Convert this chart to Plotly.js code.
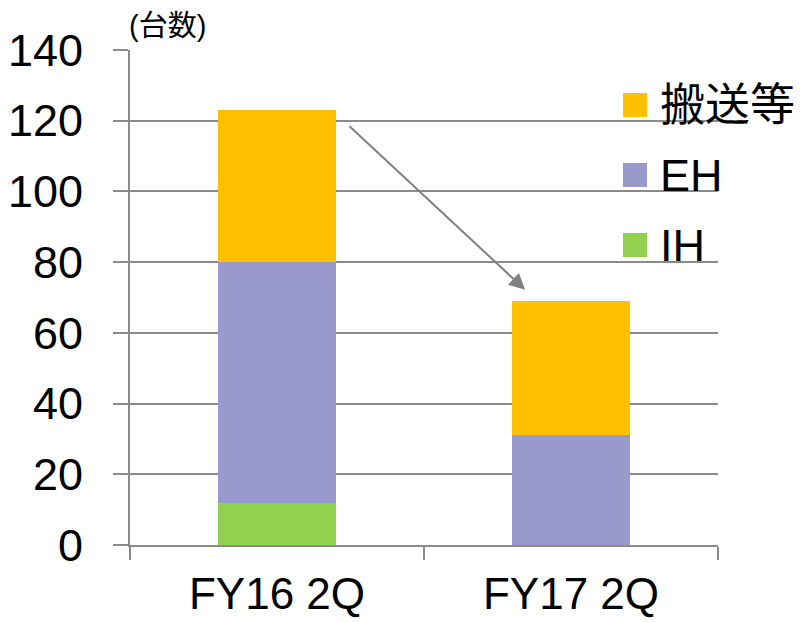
<!DOCTYPE html>
<html>
<head>
<meta charset="utf-8">
<script src="https://cdn.plot.ly/plotly-3.0.1.min.js"></script>
<style>
  html, body { margin: 0; padding: 0; background: #fff; }
  #chart { width: 803px; height: 622px; }
</style>
</head>
<body>
<div id="chart"></div>
<script>
// Units by product group, two half-year periods
const categories = ['FY16 2Q', 'FY17 2Q'];
const seriesNames = ['IH', 'EH', '搬送等'];
const ihValues = [12, 0];
const ehValues = [68, 31];
const transportValues = [43, 38];
const seriesColors = ['#92D050', '#9999CC', '#FFC000'];
const yTicks = [0, 20, 40, 60, 80, 100, 120, 140];
const unitLabel = '(台数)';

const FONT = 'Liberation Sans, Arial, "Noto Sans CJK JP", sans-serif';
const GRAY = '#8a8a8a';

const seriesValues = [ihValues, ehValues, transportValues];
const traces = seriesNames.map((name, i) => ({
  type: 'bar',
  name: name,
  x: categories,
  y: seriesValues[i],
  width: 0.4,
  marker: { color: seriesColors[i], line: { width: 0 } },
  showlegend: false,
  hoverinfo: 'x+y+name'
}));

// Legend drawn as large squares with labels, top entry first
const legendOrder = [2, 1, 0];
const shapes = [];
const annotations = [];
legendOrder.forEach((si, k) => {
  const cy = 105 + k * 70; // pixel centre from top
  const top = 1 - (cy - 12 - 50) / 495;
  const bottom = 1 - (cy + 12 - 50) / 495;
  shapes.push({
    type: 'rect', xref: 'paper', yref: 'paper',
    x0: (623 - 130) / 588, x1: (647 - 130) / 588,
    y0: bottom, y1: top,
    fillcolor: seriesColors[si], line: { width: 0 }, layer: 'above'
  });
  annotations.push({
    xref: 'paper', yref: 'paper',
    x: (658 - 130) / 588, y: 1 - (cy - 50) / 495,
    xanchor: 'left', yanchor: 'middle',
    text: seriesNames[si], showarrow: false,
    font: { family: FONT, size: 45, color: '#000' }
  });
});

// Unit label above the value axis
annotations.push({
  xref: 'paper', yref: 'paper', x: 0, y: 1 + (50 - 26) / 495,
  xanchor: 'left', yanchor: 'middle', xshift: -3,
  text: unitLabel, showarrow: false,
  font: { family: FONT, size: 29, color: '#000' }
});

// Arrow showing the decrease between periods
annotations.push({
  xref: 'x', yref: 'y', axref: 'x', ayref: 'y',
  x: 0.844, y: 72.2, ax: 0.2415, ay: 118.8,
  text: '', showarrow: true,
  arrowhead: 2, arrowsize: 1.6, arrowwidth: 2, arrowcolor: '#808080',
  standoff: 0, startstandoff: 0
});

const layout = {
  width: 803, height: 622,
  margin: { l: 130, r: 85, t: 50, b: 77, pad: 0 },
  paper_bgcolor: '#fff', plot_bgcolor: '#fff',
  barmode: 'stack',
  showlegend: false,
  font: { family: FONT, color: '#000' },
  xaxis: {
    type: 'category',
    range: [-0.5, 1.5],
    showline: true, linecolor: GRAY, linewidth: 2,
    ticks: 'outside', tickson: 'boundaries', ticklen: 13, tickwidth: 2, tickcolor: GRAY,
    showgrid: false, zeroline: false,
    tickfont: { family: FONT, size: 44, color: '#000' },
    ticklabelstandoff: 9,
    fixedrange: true
  },
  yaxis: {
    range: [0, 140],
    tickvals: yTicks,
    ticktext: yTicks.map(String),
    showline: true, linecolor: GRAY, linewidth: 2,
    ticks: 'outside', ticklen: 15, tickwidth: 2, tickcolor: GRAY,
    showgrid: true, gridcolor: GRAY, gridwidth: 2,
    zeroline: false,
    tickfont: { family: FONT, size: 45, color: '#000' },
    ticklabelstandoff: 21,
    fixedrange: true
  },
  shapes: shapes,
  annotations: annotations
};

Plotly.newPlot('chart', traces, layout, { displayModeBar: false, staticPlot: true });
</script>
</body>
</html>
